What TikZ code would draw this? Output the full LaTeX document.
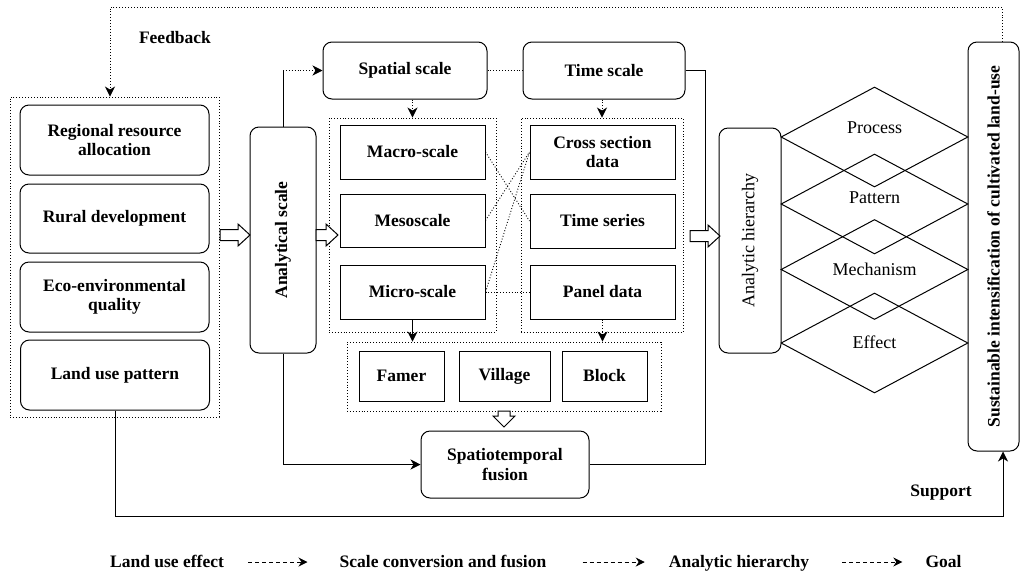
\documentclass[tikz,border=0pt]{standalone}
\usepackage{fontspec}
\setmainfont{Liberation Serif}
\usetikzlibrary{arrows.meta,shapes.geometric}
\newcommand\fsB{\fontsize{17.5}{19.5}\selectfont\bfseries}
\newcommand\fsR{\fontsize{18}{20}\selectfont}
\newcommand\holR[3]{\path[hol] (#1,#3-5.5) -- (#2-12,#3-5.5) -- (#2-12,#3-11) -- (#2,#3) -- (#2-12,#3+11) -- (#2-12,#3+5.5) -- (#1,#3+5.5) -- cycle;}
\newcommand\holD[3]{\path[hol] (#1-6,#2) -- (#1-6,#3-11) -- (#1-11,#3-11) -- (#1,#3) -- (#1+11,#3-11) -- (#1+6,#3-11) -- (#1+6,#2) -- cycle;}
\begin{document}
\begin{tikzpicture}[x=1pt,y=-1pt,
 rbox/.style={draw, line width=1pt, rounded corners=9pt, inner sep=0pt, align=center, font=\fsB},
 sbox/.style={draw, line width=1pt, inner sep=0pt, align=center, font=\fsB},
 grp/.style={draw, dotted, line width=0.9pt, inner sep=0pt},
 arr/.style={-{Stealth[length=10pt,width=10pt,inset=3pt]}},
 conn/.style={line width=0.9pt},
 dconn/.style={line width=0.9pt, dotted},
 hol/.style={draw, line width=1pt, fill=white, line join=miter},
 dia/.style={draw, shape=diamond, line width=1pt, inner sep=0pt, minimum width=187pt, minimum height=100pt},
 lbl/.style={font=\fsB, inner sep=0pt, align=center},
 rlbl/.style={font=\fsR, inner sep=0pt},
 leg/.style={font=\fsB, inner sep=0pt, anchor=base},
 legarr/.style={line width=0.8pt, dash pattern=on 4pt off 3pt, -{Stealth[length=9pt,width=9pt,inset=3pt]}},
]
\useasboundingbox (0,0) rectangle (1022,574);

% left panel
\node[grp, minimum width=209pt, minimum height=320pt] (lg) at (114.5,257) {};
\node[rbox, minimum width=189pt, minimum height=70pt] (n1) at (114.5,140) {Regional resource\\allocation};
\node[rbox, minimum width=189pt, minimum height=69pt] (n2) at (114.5,218.5) {Rural development};
\node[rbox, minimum width=189pt, minimum height=70pt] (n3) at (114.5,297) {Eco-environmental\\quality};
\node[rbox, minimum width=189pt, minimum height=70pt] (n4) at (115,375) {Land use pattern};

% analytical scale
\node[rbox, minimum width=66pt, minimum height=226pt] (as) at (283,240) {};
\node[lbl, rotate=90] (ast) at (as.center) {Analytical scale};

% top scales
\node[rbox, minimum width=164pt, minimum height=57pt] (sp) at (405,70.5) {Spatial scale};
\node[rbox, minimum width=162pt, minimum height=57pt] (tm) at (604,70.5) {Time scale};

% groups
\node[grp, minimum width=167pt, minimum height=214pt] (lgr) at (412.5,225) {};
\node[grp, minimum width=162pt, minimum height=214pt] (rgr) at (602,225) {};
\node[sbox, minimum width=145pt, minimum height=54pt] (mac) at (412.5,152) {Macro-scale};
\node[sbox, minimum width=145pt, minimum height=53pt] (mes) at (412.5,220.5) {Mesoscale};
\node[sbox, minimum width=145pt, minimum height=54pt] (mic) at (412.5,292) {Micro-scale};
\node[sbox, minimum width=145pt, minimum height=54pt] (cs) at (602.5,152) {Cross section\\data};
\node[sbox, minimum width=145pt, minimum height=54pt] (tsr) at (602.5,221) {Time series};
\node[sbox, minimum width=145pt, minimum height=54pt] (pd) at (602.5,292) {Panel data};

% bottom group
\node[grp, minimum width=314pt, minimum height=69pt] (bg) at (504,376.5) {};
\node[sbox, minimum width=85pt, minimum height=50pt] (fam) at (401.5,376) {Famer};
\node[sbox, minimum width=91pt, minimum height=50pt] (vil) at (504.5,376) {Village};
\node[sbox, minimum width=85pt, minimum height=50pt] (blk) at (604.5,376) {Block};

\node[rbox, minimum width=168pt, minimum height=67pt] (fu) at (505,464.5) {Spatiotemporal\\fusion};

% analytic hierarchy
\node[rbox, minimum width=62pt, minimum height=225pt] (ah) at (750,240.5) {};
\node[rlbl, rotate=90] (aht) at (ah.center) {Analytic hierarchy};

% diamonds
\node[dia] (d1) at (874.5,137) {};
\node[dia] (d2) at (874.5,204) {};
\node[dia] (d3) at (874.5,269.5) {};
\node[dia] (d4) at (874.5,343) {};
\node[rlbl] (t1) at (874.5,128) {Process};
\node[rlbl] (t2) at (874.5,198) {Pattern};
\node[rlbl] (t3) at (874.5,269) {Mechanism};
\node[rlbl] (t4) at (874.5,342) {Effect};

% right goal box
\node[rbox, minimum width=51pt, minimum height=409pt] (rb) at (993.5,246.5) {};
\node[lbl, rotate=90] (rbt) at (rb.center) {Sustainable intensification of cultivated land-use};

% labels
\node[lbl] (fb) at (175,38) {Feedback};
\node[lbl] (su) at (941,493) {Support};

% connectors
\coordinate (fbl) at (110,7);
\draw[dconn, arr] ([xshift=8.5pt]rb.north) |- (fbl) -- (lg.north -| fbl);
\draw[conn, arr] (n4.south) -- ++(0,106) -| ([xshift=9.5pt]rb.south);

\coordinate (asc) at (as.north |- sp.west);
\draw[conn] (as.north) -- (asc);
\draw[dconn, arr] (asc) -- (sp.west);
\draw[conn, arr] (as.south) |- (fu.west);
\draw[dconn] (sp.east) -- (tm.west);
\draw[conn] (tm.east) -- ++(20,0) |- (fu.east);

\draw[dconn, arr] (lgr.north |- sp.south) -- (lgr.north);
\draw[dconn, arr] (rgr.north |- tm.south) -- (rgr.north);

\draw[dconn] (mac.east) -- (tsr.west);
\draw[dconn] (mes.east) -- (cs.west);
\draw[dconn] (mic.east) -- (cs.west);
\draw[dconn] (mic.east) -- (pd.west);

\draw[conn, arr] (mic.south) -- (mic.south |- bg.north);
\draw[dconn, arr] (pd.south) -- (pd.south |- bg.north);

% hollow arrows
\holR{220}{250}{235}
\holR{316}{338}{235}
\holR{690}{720}{236}
\holD{504}{411}{427}

% legend
\node[leg] (L1) at (167,567) {Land use effect};
\node[leg] (L2) at (443,567) {Scale conversion and fusion};
\node[leg] (L3) at (739,567) {Analytic hierarchy};
\node[leg] (L4) at (943.5,567) {Goal};
\coordinate (ly) at (0,562);
\draw[legarr] ([xshift=24pt]L1.east |- ly) -- ([xshift=-32pt]L2.west |- ly);
\draw[legarr] ([xshift=36pt]L2.east |- ly) -- ([xshift=-24pt]L3.west |- ly);
\draw[legarr] ([xshift=33pt]L3.east |- ly) -- ([xshift=-23pt]L4.west |- ly);
\end{tikzpicture}
\end{document}
